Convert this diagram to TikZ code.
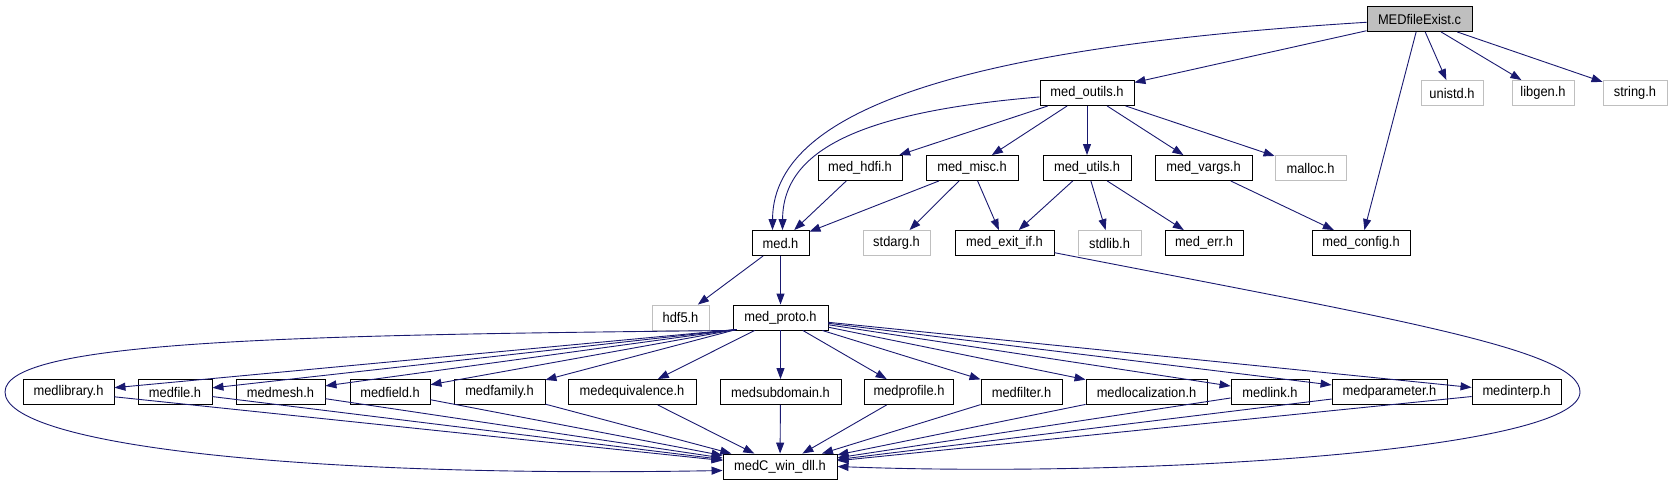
\documentclass[tikz,border=0pt]{standalone}
\usepackage{fontspec}
\setmainfont{Liberation Sans}[FakeStretch=0.92]
\usetikzlibrary{arrows.meta}
\definecolor{edgeblue}{HTML}{191970}
\definecolor{sysgray}{HTML}{BFBFBF}

\begin{document}
\begin{tikzpicture}[x=1pt, y=-1pt, >={Triangle[length=11pt,width=8pt]},
  font=\fontsize{14}{15}\selectfont,
  file/.style={draw, line width=0.9pt, minimum height=25pt, inner sep=0pt},
  sysfile/.style={file, draw=sysgray},
  edge/.style={->, edgeblue, line width=0.9pt}]

  \useasboundingbox (0,0) rectangle (1673,485);

  % Source file
  \node[file, fill=sysgray, minimum width=105pt] (exist) at (1419.5,19) {MEDfileExist.c};

  % First level includes
  \node[file, minimum width=94pt] (outils) at (1087,93) {med\_outils.h};
  \node[sysfile, minimum width=62pt] (unistd) at (1452,93) {unistd.h};
  \node[sysfile, minimum width=62pt] (libgen) at (1543,93) {libgen.h};
  \node[sysfile, minimum width=64pt] (string) at (1635,93) {string.h};

  % Included by med_outils.h
  \node[file, minimum width=84pt] (hdfi) at (860,168) {med\_hdfi.h};
  \node[file, minimum width=92pt] (misc) at (972,168) {med\_misc.h};
  \node[file, minimum width=88pt] (utils) at (1087,168) {med\_utils.h};
  \node[file, minimum width=97pt] (vargs) at (1203.5,168) {med\_vargs.h};
  \node[sysfile, minimum width=71pt] (malloc) at (1310.5,168) {malloc.h};

  % Third level
  \node[file, minimum width=57pt] (medh) at (780.5,243) {med.h};
  \node[sysfile, minimum width=67pt] (stdarg) at (896.5,243) {stdarg.h};
  \node[file, minimum width=99pt] (exitif) at (1004.5,243) {med\_exit\_if.h};
  \node[sysfile, minimum width=63pt] (stdlib) at (1109.5,243) {stdlib.h};
  \node[file, minimum width=78pt] (err) at (1204,243) {med\_err.h};
  \node[file, minimum width=98pt] (config) at (1361,243) {med\_config.h};

  % Included by med.h
  \node[sysfile, minimum width=57pt] (hdf) at (680.5,317.5) {hdf5.h};
  \node[file, minimum width=95pt] (proto) at (780.5,317.5) {med\_proto.h};

  % Included by med_proto.h
  \foreach \n/\x/\w/\t in {library/68.5/91/medlibrary.h, file/175/74/medfile.h,
      mesh/280.5/89/medmesh.h, field/390/80/medfield.h, family/499.5/91/medfamily.h,
      equivalence/632/128/medequivalence.h, subdomain/780.5/121/medsubdomain.h,
      profile/909/89/medprofile.h, filter/1021.5/81/medfilter.h,
      localization/1146.5/121/medlocalization.h, link/1270/78/medlink.h,
      parameter/1389.5/115/medparameter.h, interp/1516.5/89/medinterp.h}
    \node[file, minimum width=\w pt] (\n) at (\x,392) {\t};

  \node[file, minimum width=114pt] (dll) at (780,466.5) {medC\_win\_dll.h};

  % Edges from MEDfileExist.c
  \draw[edge] (exist) .. controls (1000,45) and (773,100) .. ([xshift=-8pt]medh.north);
  \foreach \n in {outils, config, unistd, libgen, string}
    \draw[edge] (exist) -- (\n);

  % Edges from med_outils.h
  \draw[edge] (outils) .. controls (860,112) and (783,150) .. ([xshift=2pt]medh.north);
  \foreach \n in {hdfi, misc, utils, vargs, malloc}
    \draw[edge] (outils) -- (\n);

  \draw[edge] (hdfi) -- (medh);
  \foreach \n in {medh, stdarg, exitif}
    \draw[edge] (misc) -- (\n);
  \foreach \n in {exitif, stdlib, err}
    \draw[edge] (utils) -- (\n);
  \draw[edge] (vargs) -- (config);

  % med_exit_if.h goes round the right side
  \draw[edge] (exitif) .. controls (1400,320) and (1580,350) .. (1580,392)
    .. controls (1580,450) and (1150,478) .. (dll.east);

  \draw[edge] (medh) -- (hdf);
  \draw[edge] (medh) -- (proto);

  % med_proto.h goes round the left side
  \draw[edge] ([xshift=2pt]proto.south west) .. controls (300,335) and (5,340) .. (5,392)
    .. controls (5,445) and (300,478) .. ([yshift=-4pt]dll.west);

  % left ones leave under hdf5.h
  \foreach \n in {library, file, mesh, field, family}
    \draw[edge] ([xshift=4pt,yshift=1pt]proto.south west) -- (\n);
  \foreach \n in {equivalence, subdomain, profile, filter, localization, link,
      parameter, interp}
    \draw[edge] (proto) -- (\n);

  \foreach \n in {library, file, mesh, field, family, equivalence, subdomain,
      profile, filter, localization, link, parameter, interp}
    \draw[edge] (\n) -- (dll);
\end{tikzpicture}
\end{document}
